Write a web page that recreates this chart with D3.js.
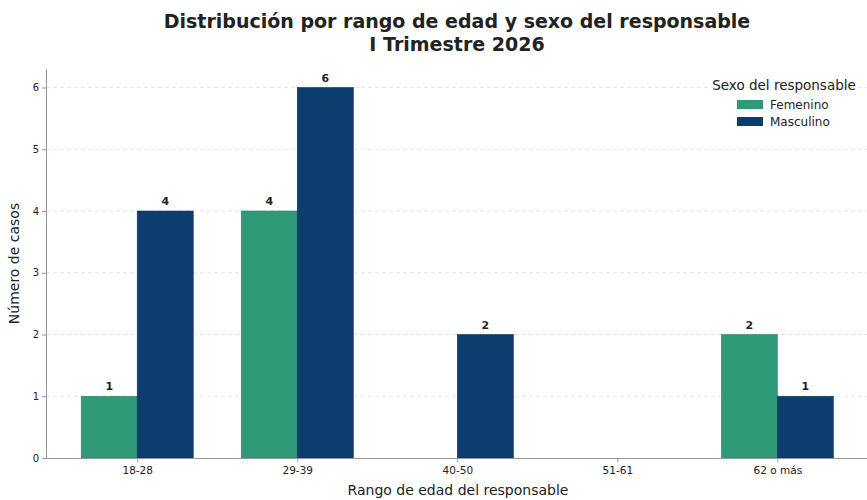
<!DOCTYPE html>
<html>
<head>
<meta charset="utf-8">
<script src="https://cdn.jsdelivr.net/npm/d3@7"></script>
<style>
  body { margin: 0; background: #fff; }
  text { font-family: "DejaVu Sans", sans-serif; fill: #222; }
</style>
</head>
<body>
<div id="chart"></div>
<script>
const categories = ['18-28', '29-39', '40-50', '51-61', '62 o más']
const seriesNames = ['Femenino', 'Masculino']
const femenino = [1, 4, 0, 0, 2]
const masculino = [4, 6, 2, 0, 1]
const yTicks = [0, 1, 2, 3, 4, 5, 6]
const colors = ['#2e9a78', '#0d3d6d']

const width = 867, height = 500
const svg = d3.select('#chart').append('svg')
  .attr('width', width)
  .attr('height', height)

// category index -> pixel, bars 0.35 wide each side of the tick
const x = d3.scaleLinear().domain([-0.57, 4.56]).range([46, 867])
const y = d3.scaleLinear().domain([0, 6.3]).range([458, 69])
const barW = 0.35

// grid
svg.append('g')
  .selectAll('line')
  .data(yTicks.slice(1))
  .join('line')
    .attr('x1', x.range()[0])
    .attr('x2', x.range()[1])
    .attr('y1', d => y(d))
    .attr('y2', d => y(d))
    .attr('stroke', '#ddd')
    .attr('stroke-dasharray', '4,3')
    .attr('stroke-width', 0.8)

const series = [femenino, masculino]
series.forEach((vals, s) => {
  const offset = s === 0 ? -barW : 0
  const pts = vals.map((v, i) => ({v: v, i: i}))
  const g = svg.append('g')
  g.selectAll('rect')
    .data(pts)
    .join('rect')
      .attr('x', d => x(d.i + offset))
      .attr('width', x(barW) - x(0))
      .attr('y', d => y(d.v))
      .attr('height', d => y(0) - y(d.v))
      .attr('fill', colors[s])
      .attr('stroke', d3.color(colors[s]).darker(0.4))
      .attr('stroke-width', 0.6)
  g.selectAll('text')
    .data(pts.filter(d => d.v > 0))
    .join('text')
      .attr('x', d => x(d.i + offset + barW / 2))
      .attr('y', d => y(d.v) - 6)
      .attr('text-anchor', 'middle')
      .attr('font-size', 11)
      .attr('font-weight', 'bold')
      .text(d => d.v)
})

// axes
const xAxis = d3.axisBottom(x)
  .tickValues(d3.range(categories.length))
  .tickFormat(i => categories[i])
  .tickSize(4)
  .tickSizeOuter(0)
const gx = svg.append('g').attr('transform', `translate(0,${y(0)})`).call(xAxis)
gx.select('.domain').attr('stroke', '#999')
gx.selectAll('.tick line').attr('stroke', '#999')
gx.selectAll('.tick text').attr('font-size', 10.5).attr('dy', '0.9em').style('font-family', '"DejaVu Sans", sans-serif')

const yAxis = d3.axisLeft(y).tickValues(yTicks).tickFormat(d3.format('d')).tickSize(4).tickSizeOuter(0)
const gy = svg.append('g').attr('transform', `translate(${x.range()[0]},0)`).call(yAxis)
gy.select('.domain').attr('stroke', '#999')
gy.selectAll('.tick line').attr('stroke', '#999')
gy.selectAll('.tick text').attr('font-size', 10).style('font-family', '"DejaVu Sans", sans-serif')

// labels
svg.append('text')
  .attr('x', 458).attr('y', 495)
  .attr('text-anchor', 'middle')
  .attr('font-size', 14)
  .text('Rango de edad del responsable')

svg.append('text')
  .attr('transform', `translate(19,${(y(0) + y(6.3)) / 2}) rotate(-90)`)
  .attr('text-anchor', 'middle')
  .attr('font-size', 14)
  .text('Número de casos')

const title = svg.append('text')
  .attr('text-anchor', 'middle')
  .attr('font-size', 19)
  .attr('font-weight', 'bold')
title.append('tspan').attr('x', 457).attr('y', 28).text('Distribución por rango de edad y sexo del responsable')
title.append('tspan').attr('x', 457).attr('y', 51).text('I Trimestre 2026')

// legend
const legend = svg.append('g').attr('transform', 'translate(712,0)')
legend.append('text')
  .attr('x', 72).attr('y', 90)
  .attr('text-anchor', 'middle')
  .attr('font-size', 13.5)
  .text('Sexo del responsable')
seriesNames.forEach((name, i) => {
  legend.append('rect')
    .attr('x', 25).attr('y', 100 + i * 17)
    .attr('width', 26).attr('height', 9)
    .attr('fill', colors[i])
  legend.append('text')
    .attr('x', 58).attr('y', 109 + i * 17)
    .attr('font-size', 12)
    .text(name)
})
</script>
</body>
</html>
